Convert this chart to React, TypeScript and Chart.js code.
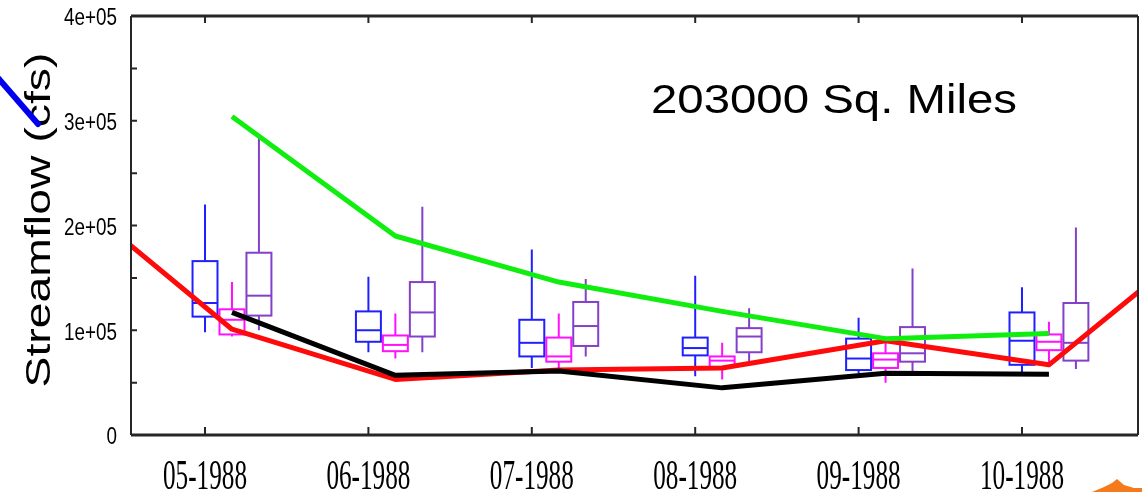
import React, { useEffect, useRef } from "react";
import { Chart, registerables } from "chart.js";

Chart.register(...registerables);

// ---------- data ----------
const monthLabels = ["05-1988", "06-1988", "07-1988", "08-1988", "09-1988", "10-1988"];
const yTickValues = [0, 100000, 200000, 300000, 400000];
const yTickLabels = ["0", "1e+05", "2e+05", "3e+05", "4e+05"];
const yMinorStep = 50000;
const annotation = "203000 Sq. Miles";
const yTitle = "Streamflow (cfs)";

// box statistics per month: [min, q1, median, q3, max] (cfs)
const blueStats = [
  [98000, 113000, 126000, 166000, 220000],
  [79000, 89000, 100000, 118000, 151000],
  [64000, 75000, 88000, 110000, 177000],
  [56000, 76000, 83000, 93000, 152000],
  [59000, 62000, 73000, 92000, 112000],
  [60000, 67000, 90000, 117000, 141000],
];
const magentaStats = [
  [94000, 96000, 110000, 120000, 146000],
  [73000, 80000, 86000, 95000, 116000],
  [64000, 70000, 75000, 93000, 116000],
  [53000, 65000, 71000, 75000, 88000],
  [50000, 64000, 72000, 78000, 88000],
  [69000, 81000, 89000, 96000, 108000],
];
const purpleStats = [
  [100000, 114000, 133000, 174000, 286000],
  [79000, 94000, 117000, 146000, 218000],
  [75000, 85000, 104000, 127000, 149000],
  [69000, 79000, 94000, 102000, 121000],
  [59000, 70000, 78000, 103000, 159000],
  [63000, 71000, 88000, 126000, 198000],
];

const greenMonths = [0, 1, 2, 3, 4, 5];
const greenFlow = [304000, 190000, 146000, 118000, 92000, 97000];
const blackMonths = [0, 1, 2, 3, 4, 5];
const blackFlow = [117000, 57000, 61000, 45000, 59000, 58000];
const redMonths = [-1, 0, 1, 2, 3, 4, 5, 6];
const redFlow = [230000, 101000, 53000, 62000, 64000, 90000, 67000, 194000];

// ---------- layout / style ----------
const W = 1142;
const H = 492;
const X_MIN = -0.453;
const X_MAX = 5.71;
const BOX_W = 0.165;
const BOX_OFFSETS = [0, BOX_W, 2 * BOX_W];
const LINE_OFFSET = BOX_W;
const BOX_COLORS = ["#2020ff", "#ff10ff", "#8440c8"];

const toPoints = (months: number[], vals: number[]) =>
  months.map((m, i) => ({ x: m + LINE_OFFSET, y: vals[i] }));

const drawScaledText = (
  ctx: CanvasRenderingContext2D,
  text: string,
  x: number,
  y: number,
  sx: number,
  rot = 0
) => {
  ctx.save();
  ctx.translate(x, y);
  if (rot) ctx.rotate(rot);
  ctx.scale(sx, 1);
  ctx.fillText(text, 0, 0);
  ctx.restore();
};

const customPlugin = {
  id: "customDraw",
  beforeDatasetsDraw(chart: any) {
    const ctx: CanvasRenderingContext2D = chart.ctx;
    const xs = chart.scales.x;
    const ys = chart.scales.y;
    const all = [blueStats, magentaStats, purpleStats];
    ctx.save();
    ctx.lineWidth = 2;
    all.forEach((series, si) => {
      ctx.strokeStyle = BOX_COLORS[si];
      series.forEach((s, mi) => {
        const c = mi + BOX_OFFSETS[si];
        const xl = xs.getPixelForValue(c - BOX_W / 2) + 1;
        const xr = xs.getPixelForValue(c + BOX_W / 2) - 1;
        const xc = xs.getPixelForValue(c);
        const [mn, q1, md, q3, mx] = s.map((v) => ys.getPixelForValue(v));
        ctx.beginPath();
        ctx.moveTo(xc, mx);
        ctx.lineTo(xc, q3);
        ctx.moveTo(xc, q1);
        ctx.lineTo(xc, mn);
        ctx.stroke();
        ctx.strokeRect(xl, q3, xr - xl, q1 - q3);
        ctx.beginPath();
        ctx.moveTo(xl, md);
        ctx.lineTo(xr, md);
        ctx.stroke();
      });
    });
    ctx.restore();
  },
  afterDraw(chart: any) {
    const ctx: CanvasRenderingContext2D = chart.ctx;
    const xs = chart.scales.x;
    const ys = chart.scales.y;
    const a = chart.chartArea;
    ctx.save();
    // frame
    ctx.strokeStyle = "#262626";
    ctx.lineWidth = 3;
    ctx.beginPath();
    ctx.moveTo(a.left, a.top);
    ctx.lineTo(a.right, a.top);
    ctx.moveTo(a.left, a.bottom);
    ctx.lineTo(a.right, a.bottom);
    ctx.stroke();
    ctx.lineWidth = 2;
    ctx.beginPath();
    ctx.moveTo(a.left, a.top);
    ctx.lineTo(a.left, a.bottom);
    ctx.moveTo(a.right, a.top);
    ctx.lineTo(a.right, a.bottom);
    ctx.stroke();
    // y ticks (major + minor)
    ctx.beginPath();
    for (let v = 0; v <= 400000; v += yMinorStep) {
      const y = ys.getPixelForValue(v);
      ctx.moveTo(a.left, y);
      ctx.lineTo(a.left + 6, y);
    }
    // x ticks top & bottom
    monthLabels.forEach((_, i) => {
      const x = xs.getPixelForValue(i);
      ctx.moveTo(x, a.bottom);
      ctx.lineTo(x, a.bottom - 8);
      ctx.moveTo(x, a.top);
      ctx.lineTo(x, a.top + 7);
    });
    ctx.stroke();

    ctx.fillStyle = "#000";
    // y tick labels
    ctx.font = "23px 'Liberation Sans', Arial, sans-serif";
    ctx.textAlign = "right";
    ctx.textBaseline = "middle";
    yTickValues.forEach((v, i) => {
      drawScaledText(ctx, yTickLabels[i], 117, ys.getPixelForValue(v) + 3, 0.82);
    });
    // x tick labels
    ctx.font = "42px 'Liberation Serif', 'Times New Roman', serif";
    ctx.textAlign = "center";
    ctx.textBaseline = "alphabetic";
    monthLabels.forEach((lab, i) => {
      drawScaledText(ctx, lab, xs.getPixelForValue(i), 489, 0.6);
    });
    // y axis title
    ctx.font = "35px 'Liberation Sans', Arial, sans-serif";
    ctx.textAlign = "center";
    ctx.textBaseline = "alphabetic";
    const tw = ctx.measureText(yTitle).width;
    drawScaledText(ctx, yTitle, 50, 220, 335 / tw, -Math.PI / 2);
    // annotation
    ctx.textAlign = "left";
    ctx.font = "40px 'Liberation Sans', Arial, sans-serif";
    const natural = ctx.measureText(annotation).width;
    drawScaledText(ctx, annotation, 651, 113, 366 / natural);

    // decorative blue stroke (top-left)
    ctx.strokeStyle = "#0000ee";
    ctx.lineWidth = 6;
    ctx.lineCap = "round";
    ctx.beginPath();
    ctx.moveTo(-2, 78);
    ctx.lineTo(38, 124);
    ctx.stroke();

    // orange corner blob
    ctx.fillStyle = "#f47a1c";
    ctx.beginPath();
    ctx.moveTo(1092, 492);
    ctx.lineTo(1104, 487);
    ctx.lineTo(1112, 483);
    ctx.lineTo(1117, 479);
    ctx.lineTo(1124, 485);
    ctx.lineTo(1134, 488);
    ctx.lineTo(1142, 488);
    ctx.lineTo(1142, 492);
    ctx.closePath();
    ctx.fill();
    ctx.restore();
  },
};

export default function App() {
  const canvasRef = useRef<HTMLCanvasElement | null>(null);

  useEffect(() => {
    const canvas = canvasRef.current;
    if (!canvas) return;
    const lineDs = (label: string, data: any[], color: string, width: number) => ({
      label,
      data,
      borderColor: color,
      backgroundColor: color,
      borderWidth: width,
      pointRadius: 0,
      tension: 0,
      fill: false,
      clip: 0,
      borderJoinStyle: "round" as const,
    });
    const chart = new Chart(canvas, {
      type: "line",
      data: {
        datasets: [
          lineDs("Green", toPoints(greenMonths, greenFlow), "#10ee10", 5),
          lineDs("Black", toPoints(blackMonths, blackFlow), "#000000", 5),
          lineDs("Red", toPoints(redMonths, redFlow), "#ff0a0a", 5),
        ],
      },
      options: {
        responsive: false,
        animation: false,
        devicePixelRatio: 1,
        layout: { padding: { left: 131, right: 4, top: 16, bottom: 57 } },
        plugins: { legend: { display: false }, tooltip: { enabled: false } },
        scales: {
          x: { type: "linear", min: X_MIN, max: X_MAX, display: false },
          y: { type: "linear", min: 0, max: 400000, display: false },
        },
      },
      plugins: [customPlugin],
    });
    return () => chart.destroy();
  }, []);

  return (
    <div style={{ position: "fixed", left: 0, top: 0, width: W, height: H, background: "#fff" }}>
      <canvas ref={canvasRef} width={W} height={H} style={{ width: W, height: H, display: "block" }} />
    </div>
  );
}
